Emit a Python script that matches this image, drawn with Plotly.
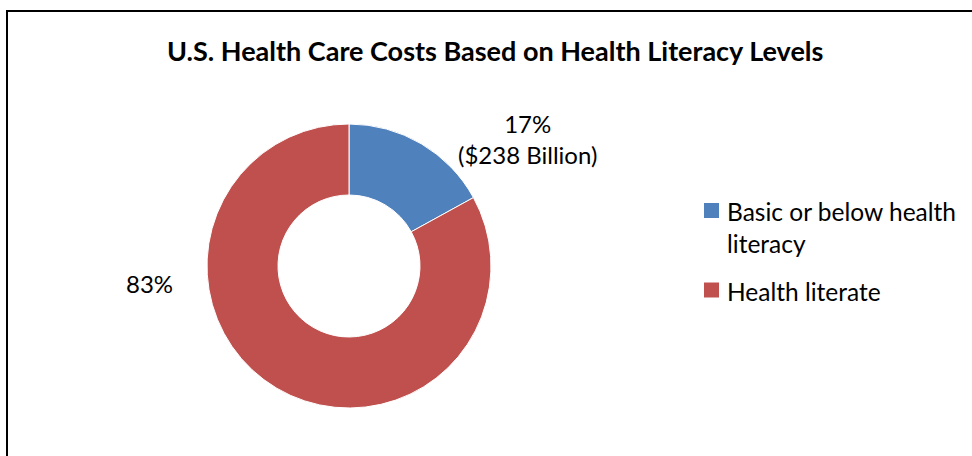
import plotly.graph_objects as go

labels = ["Basic or below health literacy", "Health literate"]
legend_labels = ["Basic or below health<br>literacy", "Health literate"]
values = [17, 83]
data_labels = ["17%<br>($238 Billion)", "83%"]
colors = ["#4F81BD", "#C0504D"]
title = "U.S. Health Care Costs Based on Health Literacy Levels"

W, H = 972, 456
cx, cy, R = 349, 266, 142
FONT = "Lato"

fig = go.Figure()
fig.add_trace(go.Pie(
    labels=labels,
    values=values,
    hole=0.5,
    sort=False,
    direction="clockwise",
    rotation=0,
    marker=dict(colors=colors, line=dict(color="white", width=1)),
    textinfo="none",
    hoverinfo="label+percent",
    showlegend=False,
    domain=dict(x=[(cx - R) / W, (cx + R) / W], y=[(H - cy - R) / H, (H - cy + R) / H]),
))

# data labels
label_pos = [(527, 138.5), (149, 283)]
for txt, (x, y) in zip(data_labels, label_pos):
    fig.add_annotation(x=x / W, y=1 - y / H, xref="paper", yref="paper",
                       text=txt, showarrow=False, xanchor="center", yanchor="middle",
                       font=dict(family=FONT, size=24, color="black"))

# title
fig.add_annotation(x=495 / W, y=1 - 50 / H, xref="paper", yref="paper",
                   text="<b>" + title + "</b>",
                   showarrow=False, xanchor="center", yanchor="middle",
                   font=dict(family=FONT, size=27, color="black"))

# legend (manual, built from labels/colors)
leg_sq_y = [210.5, 290]
leg_txt_y = [227.5, 291]
for lab, col, sy, ty in zip(legend_labels, colors, leg_sq_y, leg_txt_y):
    fig.add_shape(type="rect", xref="paper", yref="paper",
                  x0=704 / W, x1=719 / W, y0=1 - (sy + 7.5) / H, y1=1 - (sy - 7.5) / H,
                  fillcolor=col, line=dict(width=0))
    fig.add_annotation(x=725 / W, y=1 - ty / H, xref="paper", yref="paper",
                       text=lab, showarrow=False, xanchor="left", yanchor="middle",
                       align="left",
                       font=dict(family=FONT, size=24.5, color="black"))

# chart border
fig.add_shape(type="rect", xref="paper", yref="paper",
              x0=7 / W, x1=1.05, y0=-0.05, y1=1 - 11 / H,
              line=dict(color="black", width=2))

fig.update_layout(
    width=W, height=H,
    margin=dict(l=0, r=0, t=0, b=0),
    paper_bgcolor="white", plot_bgcolor="white",
    showlegend=False,
)

fig.write_html("out.html", config={"displayModeBar": False},
               post_script="document.body.style.margin='0';document.body.style.overflow='hidden';")
